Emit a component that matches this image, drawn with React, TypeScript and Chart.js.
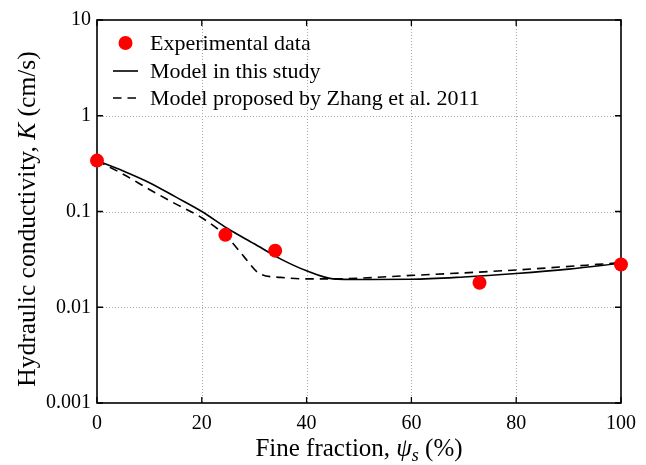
import React, { useEffect, useRef } from 'react';
import { Chart, registerables } from 'chart.js';
Chart.register(...registerables);

const expX = [0, 24.5, 34, 73, 100];
const expK = [0.34, 0.057, 0.039, 0.018, 0.028];

const modelX = [0, 5, 10, 15, 20, 25, 30, 35, 40, 45, 50, 60, 70, 80, 90, 100];
const modelK = [0.34, 0.265, 0.2, 0.142, 0.1, 0.066, 0.046, 0.032, 0.024, 0.0198, 0.0195, 0.0196, 0.0207, 0.0225, 0.025, 0.0288];

const zhangX = [0, 5, 10, 15, 20, 25, 28, 31, 35, 40, 45, 60, 80, 100];
const zhangK = [0.34, 0.245, 0.17, 0.12, 0.086, 0.053, 0.034, 0.0225, 0.0205, 0.0198, 0.0198, 0.0215, 0.0245, 0.0292];

const xTicks = [0, 20, 40, 60, 80, 100];
const yTicks = [0.001, 0.01, 0.1, 1, 10];
const yTickLabels = ['0.001', '0.01', '0.1', '1', '10'];

const legendLabels = ['Experimental data', 'Model in this study', 'Model proposed by Zhang et al. 2011'];

const FONT = '"Liberation Serif", "Times New Roman", serif';

type Part = { text: string; italic?: boolean; sub?: boolean };

function drawRich(ctx: CanvasRenderingContext2D, parts: Part[], cx: number, cy: number, size: number) {
  const fontFor = (p: Part) => `${p.italic ? 'italic ' : ''}${p.sub ? Math.round(size * 0.7) : size}px ${FONT}`;
  let total = 0;
  const widths = parts.map((p) => {
    ctx.font = fontFor(p);
    const w = ctx.measureText(p.text).width;
    total += w;
    return w;
  });
  let x = cx - total / 2;
  ctx.textBaseline = 'middle';
  ctx.textAlign = 'left';
  parts.forEach((p, i) => {
    ctx.font = fontFor(p);
    ctx.fillText(p.text, x, p.sub ? cy + size * 0.3 : cy);
    x += widths[i];
  });
}

const framePlugin = {
  id: 'framePlugin',
  beforeDatasetsDraw(chart: any) {
    const { ctx, chartArea } = chart;
    const xs = chart.scales.x;
    const ys = chart.scales.y;
    const { left, right, top, bottom } = chartArea;
    ctx.save();
    ctx.strokeStyle = '#a8a8a8';
    ctx.lineWidth = 1;
    ctx.setLineDash([1, 2]);
    xTicks.forEach((v) => {
      const px = Math.round(xs.getPixelForValue(v)) + 0.5;
      if (v === 0 || v === 100) return;
      ctx.beginPath();
      ctx.moveTo(px, top);
      ctx.lineTo(px, bottom);
      ctx.stroke();
    });
    yTicks.forEach((v, i) => {
      if (i === 0 || i === yTicks.length - 1) return;
      const py = Math.round(ys.getPixelForValue(v)) + 0.5;
      ctx.beginPath();
      ctx.moveTo(left, py);
      ctx.lineTo(right, py);
      ctx.stroke();
    });
    ctx.setLineDash([]);
    ctx.strokeStyle = '#000';
    ctx.lineWidth = 1.6;
    ctx.strokeRect(left, top, right - left, bottom - top);
    const tl = 6;
    ctx.lineWidth = 1.3;
    xTicks.forEach((v) => {
      const px = xs.getPixelForValue(v);
      ctx.beginPath();
      ctx.moveTo(px, bottom);
      ctx.lineTo(px, bottom - tl);
      ctx.moveTo(px, top);
      ctx.lineTo(px, top + tl);
      ctx.stroke();
    });
    yTicks.forEach((v) => {
      const py = ys.getPixelForValue(v);
      ctx.beginPath();
      ctx.moveTo(left, py);
      ctx.lineTo(left + tl, py);
      ctx.moveTo(right, py);
      ctx.lineTo(right - tl, py);
      ctx.stroke();
    });
    ctx.restore();
  },
  afterDraw(chart: any) {
    const { ctx } = chart;
    const ds = chart.data.datasets;
    ctx.save();
    const rows = [43, 71, 98];
    const textX = 150;
    ctx.fillStyle = ds[0].backgroundColor;
    ctx.beginPath();
    ctx.arc(125.5, rows[0], ds[0].pointRadius, 0, Math.PI * 2);
    ctx.fill();
    ctx.strokeStyle = ds[1].borderColor;
    ctx.lineWidth = ds[1].borderWidth;
    ctx.beginPath();
    ctx.moveTo(113, rows[1]);
    ctx.lineTo(138, rows[1]);
    ctx.stroke();
    ctx.strokeStyle = ds[2].borderColor;
    ctx.lineWidth = ds[2].borderWidth;
    ctx.setLineDash(ds[2].borderDash);
    ctx.beginPath();
    ctx.moveTo(113, rows[2]);
    ctx.lineTo(137, rows[2]);
    ctx.stroke();
    ctx.setLineDash([]);
    ctx.fillStyle = '#000';
    ctx.font = `22px ${FONT}`;
    ctx.textBaseline = 'middle';
    ctx.textAlign = 'left';
    legendLabels.forEach((t, i) => ctx.fillText(t, textX, rows[i] + 1));
    drawRich(ctx, [
      { text: 'Fine fraction, ' },
      { text: 'ψ', italic: true },
      { text: 's', italic: true, sub: true },
      { text: ' (%)' },
    ], 359, 449, 25);
    ctx.save();
    ctx.translate(28, 219);
    ctx.rotate(-Math.PI / 2);
    drawRich(ctx, [
      { text: 'Hydraulic conductivity, ' },
      { text: 'K', italic: true },
      { text: ' (cm/s)' },
    ], 0, 0, 25.5);
    ctx.restore();
    ctx.restore();
  },
};

export default function App() {
  const ref = useRef<HTMLCanvasElement | null>(null);
  useEffect(() => {
    if (!ref.current) return;
    const chart = new Chart(ref.current, {
      type: 'scatter',
      data: {
        datasets: [
          {
            label: legendLabels[0],
            data: expX.map((x, i) => ({ x, y: expK[i] })),
            backgroundColor: '#ff0000',
            borderColor: '#ff0000',
            pointRadius: 7,
            pointBorderWidth: 0,
            showLine: false,
            clip: false as any,
            order: 0,
          },
          {
            label: legendLabels[1],
            type: 'line',
            data: modelX.map((x, i) => ({ x, y: modelK[i] })),
            borderColor: '#000',
            borderWidth: 1.6,
            pointRadius: 0,
            showLine: true,
            cubicInterpolationMode: 'monotone',
            fill: false,
            order: 1,
          } as any,
          {
            label: legendLabels[2],
            type: 'line',
            data: zhangX.map((x, i) => ({ x, y: zhangK[i] })),
            borderColor: '#000',
            borderWidth: 1.6,
            borderDash: [8.5, 6],
            pointRadius: 0,
            showLine: true,
            cubicInterpolationMode: 'monotone',
            fill: false,
            order: 2,
          } as any,
        ],
      },
      options: {
        responsive: false,
        animation: false,
        layout: { padding: { top: 20, right: 25, left: 0, bottom: 0 } },
        plugins: { legend: { display: false }, tooltip: { enabled: false } },
        scales: {
          x: {
            type: 'linear',
            min: 0,
            max: 100,
            afterBuildTicks: (s: any) => { s.ticks = xTicks.map((v) => ({ value: v })); },
            afterFit: (s: any) => { s.height = 62; },
            grid: { display: false, drawTicks: false },
            border: { display: false },
            ticks: {
              padding: 9,
              color: '#000',
              font: { family: FONT, size: 20 },
              maxRotation: 0,
              callback: (v: any) => String(v),
            },
          },
          y: {
            type: 'logarithmic',
            min: 0.001,
            max: 10,
            afterBuildTicks: (s: any) => { s.ticks = yTicks.map((v) => ({ value: v })); },
            afterFit: (s: any) => { s.width = 97; },
            grid: { display: false, drawTicks: false },
            border: { display: false },
            ticks: {
              padding: 6,
              color: '#000',
              font: { family: FONT, size: 20 },
              callback: (v: any) => {
                const i = yTicks.findIndex((t) => Math.abs(t - v) / t < 1e-6);
                return i >= 0 ? yTickLabels[i] : '';
              },
            },
          },
        },
      },
      plugins: [framePlugin],
    });
    return () => chart.destroy();
  }, []);
  return (
    <div style={{ position: 'fixed', left: 0, top: 0, width: 646, height: 465, background: '#fff' }}>
      <canvas ref={ref} width={646} height={465} style={{ display: 'block' }} />
    </div>
  );
}
